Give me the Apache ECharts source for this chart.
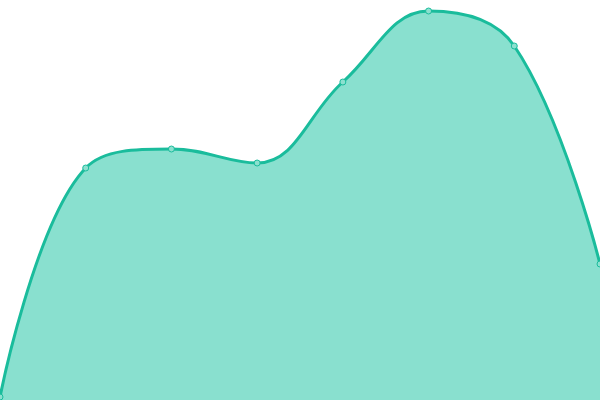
<!DOCTYPE html>
<html>
<head>
<meta charset="utf-8">
<script src="https://cdn.jsdelivr.net/npm/echarts@6/dist/echarts.min.js"></script>
<style>
  html, body { margin: 0; padding: 0; background: #fff; }
  #chart { width: 600px; height: 400px; }
</style>
</head>
<body>
<div id="chart"></div>
<script>
const categories = ['A', 'B', 'C', 'D', 'E', 'F', 'G', 'H'];
const values = [3, 232, 251, 237, 318, 389, 354, 136];

const chart = echarts.init(document.getElementById('chart'));
chart.setOption({
  animation: false,
  grid: { left: 0, right: 0, top: 0, bottom: 0 },
  xAxis: {
    type: 'category',
    data: categories,
    boundaryGap: false,
    show: false
  },
  yAxis: {
    type: 'value',
    min: 0,
    max: 400,
    show: false
  },
  series: [{
    type: 'line',
    data: values,
    smooth: 0.4,
    symbol: 'circle',
    symbolSize: 6,
    lineStyle: { color: '#1abc9c', width: 3 },
    itemStyle: { color: '#8ce0cf', borderColor: '#1abc9c', borderWidth: 1 },
    areaStyle: { color: '#89e0cf', opacity: 1 }
  }]
});
</script>
</body>
</html>
